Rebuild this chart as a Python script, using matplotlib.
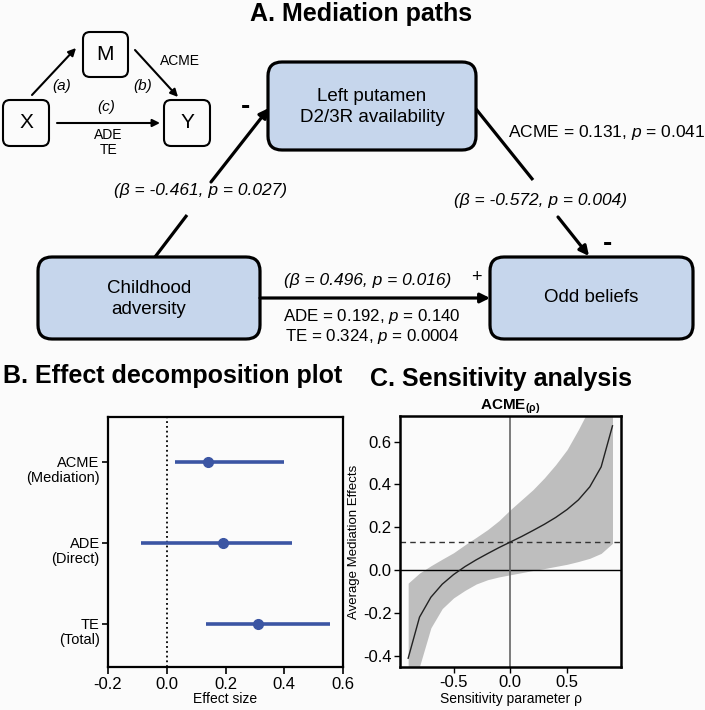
import matplotlib
matplotlib.use("Agg")
import matplotlib.pyplot as plt
from matplotlib.patches import FancyBboxPatch

plt.rcParams['font.family'] = ['Liberation Sans', 'DejaVu Sans']
plt.rcParams['axes.unicode_minus'] = False
plt.rcParams['mathtext.fontset'] = 'custom'
plt.rcParams['mathtext.rm'] = 'Liberation Sans'
plt.rcParams['mathtext.it'] = 'Liberation Sans:italic'
plt.rcParams['mathtext.bf'] = 'Liberation Sans:bold'

BG = '#fbfbfb'
BOX_BLUE = '#c6d6ec'
DOT_BLUE = '#3b55a3'

# ---- data -------------------------------------------------------------
# panel A path labels
path_a = '(β = -0.461, p = 0.027)'
path_b = '(β = -0.572, p = 0.004)'
path_c = '(β = 0.496, p = 0.016)'
acme_text = r'ACME = 0.131, $\mathit{p}$ = 0.041'
ade_text = r'ADE = 0.192, $\mathit{p}$ = 0.140'
te_text = r'TE = 0.324, $\mathit{p}$ = 0.0004'

# panel B effect decomposition
effects = ['ACME', 'ADE', 'TE']
effect_sub = ['(Mediation)', '(Direct)', '(Total)']
effect_est = [0.140, 0.192, 0.310]
effect_lo = [0.028, -0.088, 0.134]
effect_hi = [0.399, 0.426, 0.556]

# panel C sensitivity analysis
rho = [-0.9, -0.8, -0.7, -0.6, -0.5, -0.4, -0.3, -0.2, -0.1, 0.0,
       0.1, 0.2, 0.3, 0.4, 0.5, 0.6, 0.7, 0.8, 0.9]
acme_rho = [-0.412, -0.220, -0.127, -0.066, -0.021, 0.016, 0.048, 0.077, 0.105, 0.131,
            0.157, 0.185, 0.214, 0.246, 0.283, 0.328, 0.389, 0.482, 0.674]
acme_upper = [-0.061, -0.014, 0.020, 0.051, 0.081, 0.118, 0.153, 0.189, 0.231, 0.282,
              0.329, 0.376, 0.431, 0.493, 0.563, 0.657, 0.760, 0.930, 1.250]
acme_lower = [-0.760, -0.450, -0.270, -0.180, -0.130, -0.095, -0.065, -0.045, -0.032, -0.022,
              -0.012, -0.002, 0.007, 0.017, 0.027, 0.040, 0.055, 0.078, 0.125]
acme_point = 0.131

fig = plt.figure(figsize=(7.05, 7.10), dpi=100, facecolor=BG)

# ---- panel A: diagram on a pixel-space overlay ---------------------------
ad = fig.add_axes([0, 0, 1, 1])
ad.set_xlim(0, 705)
ad.set_ylim(710, 0)
ad.axis('off')
ad.patch.set_visible(False)


def rbox(x0, y0, x1, y1, r, fc, lw):
    ad.add_patch(FancyBboxPatch((x0 + r, y0 + r), x1 - x0 - 2 * r, y1 - y0 - 2 * r,
                                boxstyle=f"round,pad={r}", fc=fc, ec='black', lw=lw))


def arrow(p0, p1, lw, ms):
    ad.annotate('', xy=p1, xytext=p0,
                arrowprops=dict(arrowstyle='-|>', lw=lw, color='black',
                                mutation_scale=ms, shrinkA=0, shrinkB=0))


ad.text(250, 21, 'A. Mediation paths', fontsize=18, fontweight='bold', va='baseline')

# small schematic
rbox(83, 32, 128, 77, 7, BG, 1.5)
rbox(3, 100, 49, 146, 7, BG, 1.5)
rbox(164, 100, 210, 146, 7, BG, 1.5)
ad.text(105.5, 55, 'M', fontsize=15, ha='center', va='center')
ad.text(26, 123, 'X', fontsize=15, ha='center', va='center')
ad.text(187, 123, 'Y', fontsize=15, ha='center', va='center')
arrow((32, 95), (76, 48), 1.5, 11)
arrow((135, 50), (178, 97), 1.5, 11)
arrow((57, 123), (160, 123), 1.5, 11)
ad.text(62, 86, '(a)', fontsize=11, style='italic', ha='center', va='center')
ad.text(143, 86, '(b)', fontsize=11, style='italic', ha='center', va='center')
ad.text(106, 107, '(c)', fontsize=11, style='italic', ha='center', va='center')
ad.text(180, 61, 'ACME', fontsize=10, ha='center', va='center')
ad.text(108, 135, 'ADE', fontsize=10, ha='center', va='center')
ad.text(109, 150, 'TE', fontsize=10, ha='center', va='center')

# main boxes
rbox(268, 62, 476, 150, 14, BOX_BLUE, 2.3)
rbox(38, 257, 260, 339, 14, BOX_BLUE, 2.3)
rbox(490, 257, 693, 339, 14, BOX_BLUE, 2.3)
ad.text(372, 107, 'Left putamen\nD2/3R availability', fontsize=13.5,
        ha='center', va='center', linespacing=1.28)
ad.text(149, 299, 'Childhood\nadversity', fontsize=13.5,
        ha='center', va='center', linespacing=1.3)
ad.text(591, 298, 'Odd beliefs', fontsize=13.5, ha='center', va='center')

# path a (split by label)
ad.plot([155, 187], [257, 215], color='black', lw=2.3, solid_capstyle='butt')
arrow((211, 182), (269, 108), 2.3, 14)
ad.text(200, 191, path_a, fontsize=12.5, style='italic', ha='center', va='center')
ad.text(245, 107, '-', fontsize=20, fontweight='bold', ha='center', va='center')

# path b (split by label)
ad.plot([476, 533], [109, 180], color='black', lw=2.3, solid_capstyle='butt')
arrow((558, 217), (589, 256), 2.3, 14)
ad.text(541, 200, path_b, fontsize=12.5, style='italic', ha='center', va='center')
ad.text(607, 244, '-', fontsize=20, fontweight='bold', ha='center', va='center')
ad.text(508, 132, acme_text, fontsize=12.5, ha='left', va='center')

# path c
arrow((260, 298), (490, 298), 2.3, 14)
ad.text(368, 280, path_c, fontsize=12.5, style='italic', ha='center', va='center')
ad.text(476, 277, '+', fontsize=13, ha='center', va='center')
ad.text(372, 317, ade_text, fontsize=12.2, ha='center', va='center')
ad.text(372, 336, te_text, fontsize=12.2, ha='center', va='center')

# ---- panel B: effect decomposition --------------------------------------
W, H = 705.0, 710.0
axb = fig.add_axes([108 / W, 1 - 667 / H, 235 / W, 250 / H], facecolor=BG)
ypos = list(range(len(effects)))
axb.hlines(ypos, effect_lo, effect_hi, color=DOT_BLUE, lw=2.6, zorder=3)
axb.plot(effect_est, ypos, 'o', color=DOT_BLUE, ms=7, zorder=4)
axb.axvline(0, color='black', lw=1.3, ls=':', zorder=2)
axb.set_xlim(-0.2, 0.6)
axb.set_ylim(len(effects) - 1 + 0.53, -0.55)
axb.set_xticks([-0.2, 0.0, 0.2, 0.4, 0.6])
axb.set_xticklabels(['-0.2', '0.0', '0.2', '0.4', '0.6'])
axb.set_yticks(ypos)
axb.set_yticklabels(effects)
axb.tick_params(axis='x', labelsize=12, length=5, width=1.2, direction='out', pad=2)
axb.tick_params(axis='y', labelsize=10.5, length=4, width=1.2, direction='out', pad=2)
for s in axb.spines.values():
    s.set_linewidth(1.6)
for yi, sub in zip(ypos, effect_sub):
    axb.annotate(sub, xy=(0, yi), xycoords=('axes fraction', 'data'),
                 xytext=(-6, -11.5), textcoords='offset points',
                 ha='right', va='center', fontsize=10.5)
axb.set_xlabel('Effect size', fontsize=10, labelpad=0)
fig.text(3 / W, 1 - 383 / H, 'B. Effect decomposition plot', fontsize=18,
         fontweight='bold', va='baseline')

# ---- panel C: sensitivity analysis --------------------------------------
axc = fig.add_axes([400 / W, 1 - 667 / H, 221 / W, 251 / H], facecolor=BG)
axc.fill_between(rho, acme_lower, acme_upper, color='#bebebe', lw=0, zorder=1)
axc.plot(rho, acme_rho, color='#222222', lw=1.0, zorder=3)
axc.axhline(0, color='black', lw=1.0, zorder=2)
axc.axvline(0, color='#666666', lw=1.2, zorder=2)
axc.axhline(acme_point, color='#333333', lw=1.0, ls=(0, (4, 3)), zorder=2)
axc.set_xlim(-0.972, 0.975)
axc.set_ylim(-0.453, 0.72)
axc.set_xticks([-0.5, 0.0, 0.5])
axc.set_xticklabels(['-0.5', '0.0', '0.5'])
axc.set_yticks([-0.4, -0.2, 0.0, 0.2, 0.4, 0.6])
axc.set_yticklabels(['-0.4', '-0.2', '0.0', '0.2', '0.4', '0.6'])
axc.tick_params(labelsize=12, length=4, width=1.0, direction='out', pad=2)
for s in axc.spines.values():
    s.set_linewidth(1.8)
axc.set_xlabel('Sensitivity parameter ρ', fontsize=10, labelpad=1)
axc.set_ylabel('Average Mediation Effects', fontsize=9.5, labelpad=2)
axc.set_title(r'$\mathbf{ACME}_{\mathbf{(\rho)}}$', fontsize=11, pad=3)
fig.text(370 / W, 1 - 386 / H, 'C. Sensitivity analysis', fontsize=18,
         fontweight='bold', va='baseline')

fig.savefig('out.png', dpi=100, facecolor=BG)
